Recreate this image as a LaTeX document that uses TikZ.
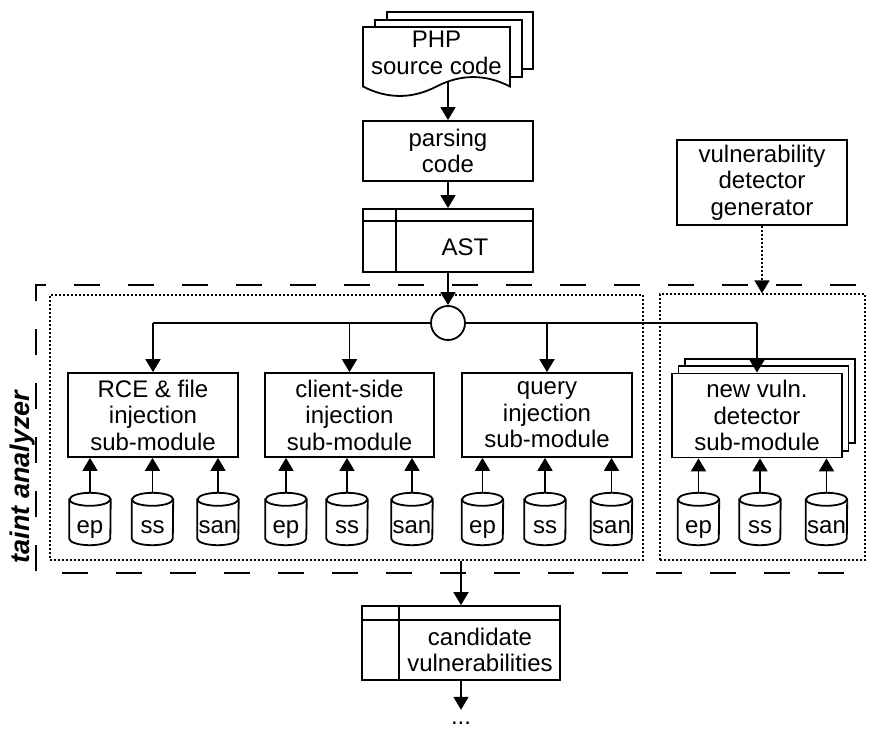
\documentclass[tikz,border=0pt]{standalone}
\usepackage{fontspec}
\setmainfont{Liberation Sans}
\usetikzlibrary{arrows.meta,calc}

% database cylinder: name, x position, label
\newcommand\dbcyl[3]{%
  \node[minimum width=41pt,minimum height=52pt] (#1) at (#2,-519) {};
  \draw[cylw] ($(#1.north west)+(0,-6.5)$) -- ($(#1.south west)+(0,6.5)$)
    arc[start angle=180,end angle=360,x radius=20.5,y radius=6.5]
    -- ($(#1.north east)+(0,-6.5)$)
    arc[start angle=0,end angle=180,x radius=20.5,y radius=6.5] -- cycle;
  \draw[ln] ($(#1.north west)+(0,-6.5)$)
    arc[start angle=180,end angle=360,x radius=20.5,y radius=6.5];
  \node[anchor=base] (#1t) at (#2,-533.5) {#3};
}

\begin{document}
\begin{tikzpicture}[x=1pt,y=1pt,
  every node/.style={font=\fontsize{24}{26.5}\selectfont,inner sep=0pt},
  box/.style={draw,line width=1.8pt,fill=white,align=center,
    minimum width=170pt,minimum height=84pt,execute at begin node={\vphantom{l}}},
  ln/.style={line width=1.8pt},
  cylw/.style={line width=1.8pt,fill=white},
  arr/.style={ln,-{Triangle[width=15pt,length=13pt]}},
  dotarr/.style={line width=1.5pt,dash pattern=on 2pt off 2pt,
    -{Triangle[width=15pt,length=13pt]}},
  frame/.style={draw,line width=1.3pt,dash pattern=on 2pt off 2pt},
]
\useasboundingbox (0,0) rectangle (871,-729);

% ---- PHP source code (stacked documents) ----
\draw[ln,fill=white] (387,-12) rectangle (533,-69);
\draw[ln,fill=white] (375,-20) rectangle (522,-77);
\draw[ln,fill=white] (363,-27) -- (510,-27) -- (510,-86.5)
  .. controls (485.5,-73.9) and (461,-73.9) .. (436.5,-86.5)
  .. controls (412,-99.1) and (387.5,-99.1) .. (363,-86.5) -- cycle;
\node[align=center] (php) at (436.5,-53) {PHP\\source code};
\coordinate (phpb) at (448,-81.5);

% ---- parsing and AST ----
\node[box,minimum height=60pt] (parse) at (448,-151) {parsing\\code};
\node[box,minimum height=63pt] (ast) at (448,-240.5) {};
\draw[ln] (ast.north west) ++(0,-13) -- ++(170,0);
\draw[ln] (ast.north west) ++(34,0) -- ++(0,-63);
\node[anchor=base] (astt) at (465,-255) {AST};

\draw[arr] (phpb) -- (parse.north);
\draw[arr] (parse) -- (ast);

% ---- detector generator ----
\node[box,minimum height=85pt] (gen) at (762,-182.5) {vulnerability\\detector\\generator};

% ---- taint analyzer region ----
\draw[line width=1.8pt,dash pattern=on 26pt off 28pt,dash phase=38pt]
  (860,-573) -- (36,-573) -- (36,-285) -- (860,-285);
\node[frame,minimum width=593pt,minimum height=265pt] (lframe) at (346.5,-427.5) {};
\node[frame,minimum width=205pt,minimum height=266pt] (rframe) at (762.5,-427) {};
\node[rotate=90,anchor=base,font=\fontsize{27}{30}\selectfont\bfseries\itshape]
  (ta) at (30,-477) {taint analyzer};

% sub-modules
\node[box] (rce) at (153,-415) {RCE \& file\\injection\\sub-module};
\node[box,minimum width=169pt] (client) at (349.5,-415) {client-side\\injection\\sub-module};
\node[box] (query) at (547,-415) {query\\injection\\sub-module};
\draw[ln,fill=white] (685,-359) rectangle (855,-443);
\draw[ln,fill=white] (678.5,-366) rectangle (848.5,-451);
\node[box] (newv) at (757,-415.5) {new vuln.\\detector\\sub-module};

% dispatch hub
\node[draw,circle,line width=1.8pt,fill=white,minimum size=34pt] (hub) at (448,-323) {};
\draw[ln] (rce.north |- hub) -- (hub.west);
\draw[ln] (hub.east) -- (newv.north |- hub);
\draw[arr] (ast) -- (hub);
\draw[arr] (rce.north |- hub) -- (rce.north);
\draw[arr] (client.north |- hub) -- (client.north);
\draw[arr] (query.north |- hub) -- (query.north);
\draw[arr] (newv.north |- hub) -- (newv.north);

\draw[dotarr] (gen.south) -- (gen.south |- rframe.north);

% data stores
\dbcyl{epA}{90}{ep}
\dbcyl{ssA}{152.5}{ss}
\dbcyl{sanA}{218}{san}
\dbcyl{epB}{286}{ep}
\dbcyl{ssB}{347}{ss}
\dbcyl{sanB}{412}{san}
\dbcyl{epC}{482.5}{ep}
\dbcyl{ssC}{545}{ss}
\dbcyl{sanC}{611.5}{san}
\dbcyl{epD}{698.5}{ep}
\dbcyl{ssD}{760}{ss}
\dbcyl{sanD}{826.5}{san}

\foreach \c/\m in {epA/rce,ssA/rce,sanA/rce,epB/client,ssB/client,sanB/client,
                   epC/query,ssC/query,sanC/query,epD/newv,ssD/newv,sanD/newv}
  \draw[arr] (\c.north) -- (\c.north |- \m.south);

% ---- candidate vulnerabilities ----
\node[box,minimum width=198pt,minimum height=74pt] (cand) at (461,-643) {};
\draw[ln] (cand.north west) ++(0,-15) -- ++(198,0);
\draw[ln] (cand.north west) ++(38,0) -- ++(0,-74);
\node[align=center] (candt) at (480,-650) {candidate\\vulnerabilities};
\draw[arr] (lframe.south -| cand) -- (cand);

\node[anchor=base,text height=14pt] (more) at (461,-724) {...};
\draw[arr] (cand) -- (more.north);
\end{tikzpicture}
\end{document}
